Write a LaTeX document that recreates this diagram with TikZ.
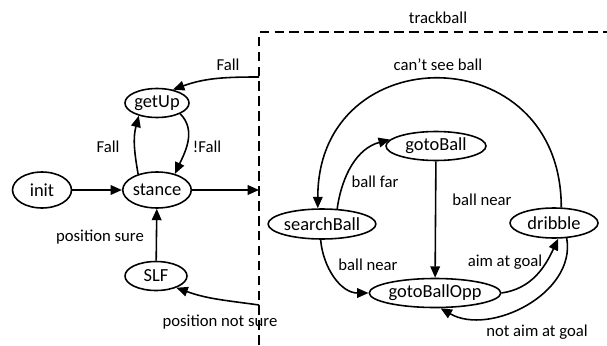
\documentclass[tikz,border=0pt]{standalone}
\usepackage{fontspec}
\setmainfont{Carlito}
\usetikzlibrary{shapes.geometric, arrows.meta}
\tikzstyle{stato} = [ellipse, draw=black, line width=0.9pt, inner sep=0pt, minimum height=0.58cm, font=\fontsize{10.5}{12}\selectfont]
\tikzstyle{etichetta} = [inner sep=0pt, font=\fontsize{9.5}{11}\selectfont]
\tikzstyle{freccia} = [line width=0.9pt,-{Triangle[length=6.5pt,width=5.5pt]}]
\tikzstyle{confine} = [line width=0.9pt, dash pattern=on 5.5pt off 3pt]

\begin{document}
\begin{tikzpicture}[x=0.02cm,y=0.02cm]
\useasboundingbox (0,0) rectangle (607,345);
% riquadro trackball
\draw[confine] (259,0) -- (259,313) -- (607,313);
\node (tb) at (438,327) [etichetta] {trackball};
\coordinate (bordoFall) at (259,268);
\coordinate (bordoStance) at (259,155);
\coordinate (bordoSLF) at (259,40);
% stati esterni
\node (init) at (42,155) [stato, minimum width=1.18cm, minimum height=0.72cm] {init};
\node (stance) at (157,155) [stato, minimum width=1.22cm, minimum height=0.72cm] {stance};
\node (getUp) at (157,242) [stato, minimum width=1.26cm] {getUp};
\node (slf) at (156,69) [stato, minimum width=1.24cm] {SLF};
% stati interni
\node (search) at (322,121) [stato, minimum width=1.9cm, minimum height=0.6cm] {searchBall};
\node (gotoBall) at (436,199) [stato, minimum width=2cm] {gotoBall};
\node (dribble) at (554,122) [stato, minimum width=1.76cm, minimum height=0.6cm] {dribble};
\node (opp) at (435,52) [stato, minimum width=2cm] {gotoBallOpp};
% transizioni esterne
\draw[freccia] (init) -- (stance);
\draw[freccia] (stance) -- (bordoStance);
\draw[freccia] (slf) -- (stance);
\draw[freccia] (stance.140) to[out=100,in=255] (getUp.215);
\draw[freccia] (getUp.-25) to[out=-45,in=65] (stance.42);
\draw[freccia] (bordoFall) to[out=180,in=20] (getUp.40);
\draw[freccia] (bordoSLF) to[out=172,in=-20] (slf.-30);
\node (lFall) at (228,280) [etichetta] {Fall};
\node (lFallSx) at (108,198) [etichetta] {Fall};
\node (lNoFall) at (207,198) [etichetta] {!Fall};
\node (lSure) at (100,108) [etichetta] {position sure};
\node (lNotSure) at (220,23) [etichetta] {position not sure};
% transizioni interne
\draw[freccia] (dribble.65) to[out=90,in=90,looseness=1.8] (search.105);
\draw[freccia] (search.45) to[out=82,in=195] (gotoBall.172);
\draw[freccia] (gotoBall) -- (opp);
\draw[freccia] (search.-95) to[out=-85,in=180] (opp.west);
\draw[freccia] (opp.east) to[out=8,in=-115] (dribble.-75);
\draw[freccia] (dribble.-50) to[out=-80,in=-30] (opp.-70);
\node (lCant) at (438,280) [etichetta] {can't see ball};
\node (lFar) at (375,163) [etichetta] {ball far};
\node (lNear) at (482,145) [etichetta] {ball near};
\node (lNearSx) at (368,80) [etichetta] {ball near};
\node (lAim) at (505,83) [etichetta] {aim at goal};
\node (lNotAim) at (537,13) [etichetta] {not aim at goal};
\end{tikzpicture}
\end{document}
